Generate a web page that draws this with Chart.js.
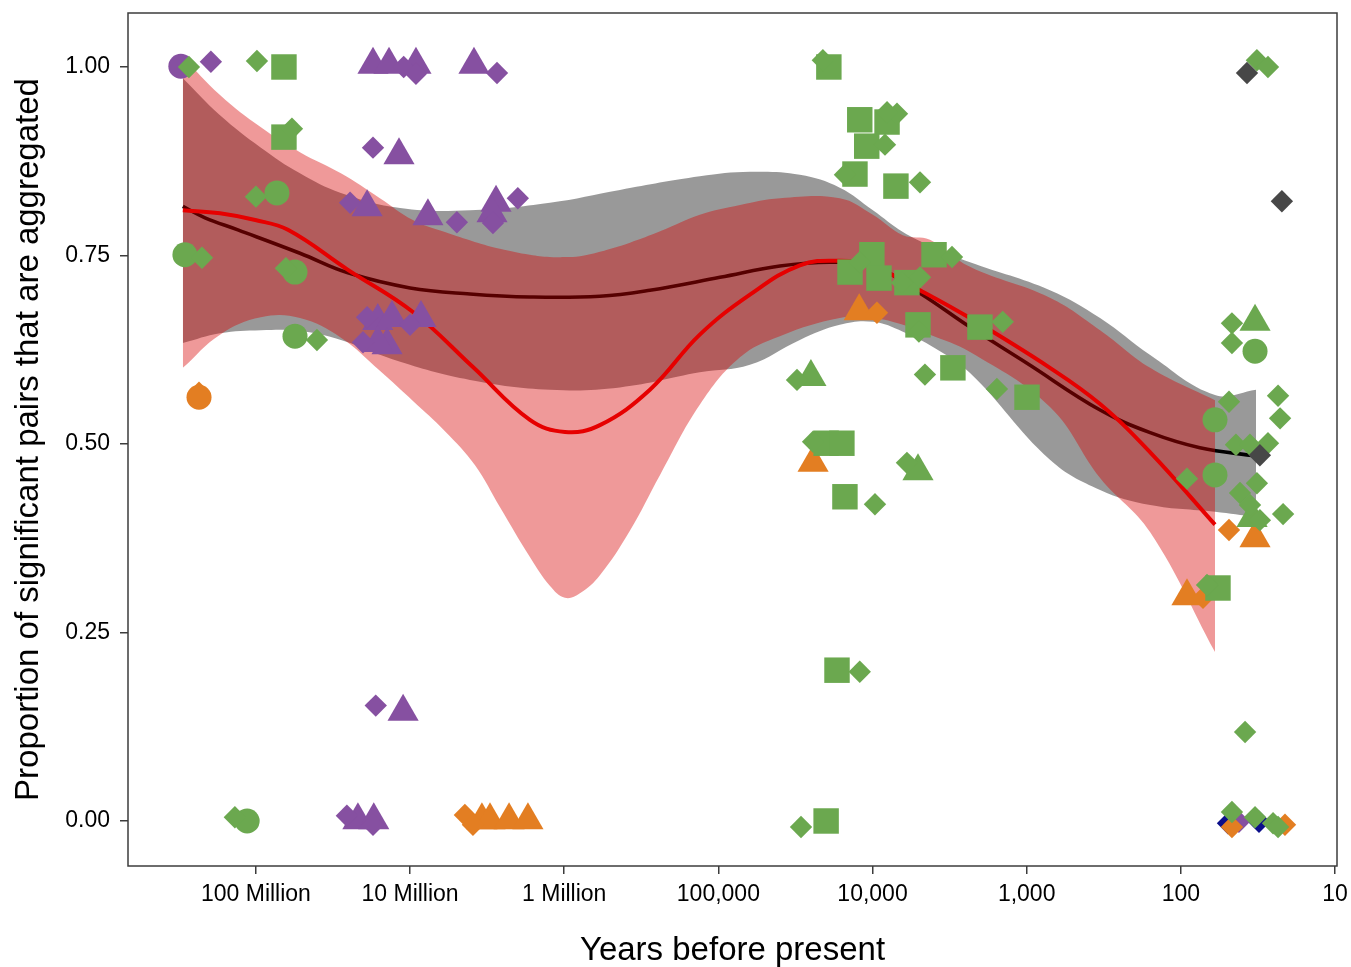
<!DOCTYPE html>
<html>
<head>
<meta charset="utf-8">
<script src="https://cdn.jsdelivr.net/npm/chart.js@4"></script>
<style>
html,body{margin:0;padding:0;background:#fff;}
#c{display:block;}
</style>
</head>
<body>
<canvas id="c" width="1351" height="967"></canvas>
<script>
// ---------- tick labels ----------
const xTickValues = [1e8, 1e7, 1e6, 1e5, 1e4, 1e3, 100, 10];
const xTickLabels = ['100 Million', '10 Million', '1 Million', '100,000', '10,000', '1,000', '100', '10'];
const yTickValues = [0, 0.25, 0.5, 0.75, 1];
const yTickLabels = ['0.00', '0.25', '0.50', '0.75', '1.00'];

// ---------- points: [years before present, proportion] ----------
const purpleCircles = [[3.07e8, 1.001]];
const purpleDiamonds = [[1.96e8,1.007],[1.10e7,1.0],[9.16e6,0.991],[2.73e6,0.992],[1.74e7,0.893],[2.45e7,0.820],[4.97e6,0.794],[2.0e6,0.826],[2.90e6,0.793],[1.0e7,0.658],[1.90e7,0.668],[2.02e7,0.635],[1.67e7,0.153],[2.57e7,0.007],[1.74e7,-0.005],[42.0,-0.001]];
const purpleTriangles = [[1.74e7,1.003],[1.37e7,1.003],[9.16e6,1.003],[3.85e6,1.003],[1.18e7,0.883],[1.90e7,0.814],[7.66e6,0.802],[2.77e6,0.820],[2.94e6,0.806],[1.62e7,0.663],[1.31e7,0.667],[8.50e6,0.667],[1.41e7,0.631],[1.62e7,0.634],[1.11e7,0.145],[2.18e7,0.001],[1.72e7,0.001]];
const greenCircles = [[2.89e8,0.751],[7.31e7,0.833],[5.58e7,0.728],[5.58e7,0.643],[1.14e8,0.0],[33.0,0.623],[60.0,0.532],[60.0,0.459]];
const greenDiamonds = [[2.72e8,1.0],[9.85e7,1.008],[5.84e7,0.918],[1.0e8,0.828],[2.24e8,0.747],[6.39e7,0.733],[4.02e7,0.638],[1.37e8,0.005],[2.10e4,1.009],[6.94e3,0.938],[8.05e3,0.940],[8.30e3,0.897],[1.51e4,0.857],[4.92e3,0.847],[1.21e4,0.741],[6.44e3,0.714],[4.92e3,0.721],[3.05e3,0.748],[5.0e3,0.649],[1.43e3,0.662],[4.57e3,0.592],[1.56e3,0.573],[3.09e4,0.585],[2.43e4,0.503],[5.98e3,0.475],[9.64e3,0.420],[1.21e4,0.198],[2.91e4,-0.008],[32.1,1.009],[27.2,1.0],[46.6,0.660],[46.6,0.634],[48.7,0.556],[23.4,0.564],[22.7,0.534],[43.9,0.499],[35.6,0.499],[27.2,0.501],[91.2,0.454],[41.3,0.435],[32.1,0.448],[35.6,0.419],[30.7,0.399],[21.7,0.407],[67.6,0.313],[38.3,0.118],[46.6,0.012],[33.0,0.005],[25.2,-0.003],[23.4,-0.008]];
const greenSquares = [[6.58e7,1.0],[6.58e7,0.907],[1.92e4,1.0],[1.21e4,0.930],[8.05e3,0.927],[1.09e4,0.895],[1.30e4,0.858],[7.05e3,0.842],[1.40e4,0.728],[1.01e4,0.751],[9.08e3,0.720],[5.98e3,0.714],[3.99e3,0.751],[5.07e3,0.658],[2.01e3,0.655],[3.01e3,0.601],[995,0.562],[2.0e4,0.501],[1.58e4,0.501],[1.51e4,0.430],[1.70e4,0.200],[2.0e4,0.0],[57.4,0.309]];
const greenTriangles = [[2.51e4,0.589],[5.07e3,0.464],[33.0,0.662],[34.5,0.402]];
const orangeCircles = [[2.34e8,0.562]];
const orangeDiamonds = [[2.34e8,0.568],[9.36e3,0.674],[4.41e6,0.008],[3.91e6,-0.005],[71.8,0.296],[48.7,0.386],[46.6,-0.008],[21.1,-0.005]];
const orangeTriangles = [[1.22e4,0.676],[2.43e4,0.475],[3.42e6,0.001],[3.03e6,0.001],[2.28e6,0.001],[1.72e6,0.001],[91.2,0.298],[33.0,0.375]];
const grayDiamonds = [[37.2,0.992],[22.1,0.822],[30.7,0.485]];
const navyDiamonds = [[49.4,-0.003],[31.1,-0.001]];

// ---------- smooth fits and confidence bands ----------
const grayBandYears = [2.98e8,1.71e8,9.28e7,5.18e7,2.81e7,1.16e7,4.09e6,1.24e6,4.35e5,1.32e5,6.24e4,2.96e4,1.63e4,9.94e3,6.35e3,4.24e3,2.33e3,706,334,158,60,32.5];
const grayBandUpper = [0.985,0.936,0.893,0.859,0.833,0.813,0.810,0.820,0.837,0.855,0.861,0.857,0.840,0.810,0.781,0.763,0.741,0.704,0.667,0.618,0.565,0.572];
const grayBandLower = [0.634,0.647,0.651,0.650,0.638,0.609,0.585,0.572,0.575,0.595,0.605,0.638,0.658,0.662,0.649,0.631,0.594,0.479,0.439,0.419,0.410,0.403];

const redBandYears = [2.98e8,1.71e8,9.28e7,5.18e7,2.81e7,1.57e7,9.58e6,5.94e6,3.80e6,2.61e6,1.67e6,1.24e6,9.89e5,7.91e5,5.87e5,3.75e5,2.39e5,1.32e5,7.24e4,3.99e4,1.63e4,9.94e3,6.35e3,4.24e3,2.33e3,706,334,158,60];
const redBandUpper = [1.013,0.963,0.920,0.887,0.859,0.826,0.797,0.781,0.768,0.759,0.751,0.748,0.748,0.749,0.755,0.767,0.782,0.804,0.817,0.826,0.826,0.804,0.777,0.771,0.735,0.694,0.651,0.601,0.558];
const redBandLower = [0.601,0.645,0.668,0.667,0.641,0.597,0.557,0.517,0.472,0.416,0.350,0.312,0.296,0.302,0.326,0.385,0.459,0.552,0.615,0.643,0.667,0.667,0.658,0.645,0.622,0.549,0.455,0.383,0.224];

const blackLineYears = [2.98e8,2.14e8,1.31e8,5.18e7,2.53e7,1.0e7,4.09e6,1.67e6,5.87e5,2.78e5,9.77e4,3.99e4,1.89e4,9.94e3,4.92e3,2.33e3,995,334,158,75.2,32.5];
const blackLineValues = [0.815,0.800,0.784,0.753,0.727,0.707,0.699,0.695,0.696,0.704,0.721,0.736,0.741,0.736,0.700,0.655,0.607,0.545,0.515,0.495,0.484];

const redLineYears = [2.98e8,1.71e8,1.01e8,6.20e7,2.53e7,9.58e6,3.91e6,1.67e6,9.89e5,5.87e5,2.78e5,1.32e5,6.24e4,2.96e4,1.63e4,9.94e3,4.92e3,2.33e3,706,334,158,60];
const redLineValues = [0.810,0.806,0.797,0.784,0.731,0.675,0.602,0.532,0.516,0.525,0.572,0.645,0.698,0.737,0.743,0.736,0.704,0.667,0.601,0.553,0.489,0.393];

// ---------- styles ----------
const COLORS = {purple:'#8650A1', green:'#6BA84F', orange:'#E37E22', gray:'#474747', navy:'#0B0E8A'};
const FONT = "'Liberation Sans', Arial, Helvetica, sans-serif";

function toXY(pairs){ return pairs.map(p => ({x:p[0], y:p[1]})); }
function zipXY(xs, ys){ return xs.map((x,i) => ({x:x, y:ys[i]})); }

function pts(pairs, style, radius, color, order){
  return {
    type:'line', data: toXY(pairs), showLine:false,
    pointStyle: style, pointRadius: radius, pointHoverRadius: radius,
    pointBackgroundColor: color, pointBorderColor: color, pointBorderWidth: 0,
    order: order
  };
}

const datasets = [];
datasets.push(pts(grayDiamonds, 'rectRot', 11.2, COLORS.gray, 0));
datasets.push(pts(greenDiamonds, 'rectRot', 11.2, COLORS.green, 1));
datasets.push(pts(greenSquares, 'rect', 18, COLORS.green, 1));
datasets.push(pts(greenCircles, 'circle', 12.5, COLORS.green, 1));
datasets.push(pts(greenTriangles, 'triangle', 18, COLORS.green, 1));
datasets.push(pts(orangeCircles, 'circle', 12.5, COLORS.orange, 2));
datasets.push(pts(orangeDiamonds, 'rectRot', 11.2, COLORS.orange, 2));
datasets.push(pts(orangeTriangles, 'triangle', 18, COLORS.orange, 2));
datasets.push(pts(purpleCircles, 'circle', 12.5, COLORS.purple, 3));
datasets.push(pts(purpleDiamonds, 'rectRot', 11.2, COLORS.purple, 3));
datasets.push(pts(purpleTriangles, 'triangle', 18, COLORS.purple, 3));
datasets.push(pts(navyDiamonds, 'rectRot', 11.2, COLORS.navy, 4));

datasets.push({type:'line', data: zipXY(redLineYears, redLineValues), borderColor:'#E60000', borderWidth:4, pointRadius:0, tension:0.4, fill:false, order:10});
let idx = datasets.length;
datasets.push({type:'line', data: zipXY(redBandYears, redBandUpper), borderWidth:0, pointRadius:0, tension:0.4, fill: idx+1, backgroundColor:'rgba(215,0,0,0.4)', order:20});
datasets.push({type:'line', data: zipXY(redBandYears, redBandLower), borderWidth:0, pointRadius:0, tension:0.4, fill:false, order:20});
datasets.push({type:'line', data: zipXY(blackLineYears, blackLineValues), borderColor:'#000000', borderWidth:3.6, pointRadius:0, tension:0.4, fill:false, order:30});
idx = datasets.length;
datasets.push({type:'line', data: zipXY(grayBandYears, grayBandUpper), borderWidth:0, pointRadius:0, tension:0.4, fill: idx+1, backgroundColor:'rgba(0,0,0,0.4)', order:40});
datasets.push({type:'line', data: zipXY(grayBandYears, grayBandLower), borderWidth:0, pointRadius:0, tension:0.4, fill:false, order:40});

const framePlugin = {
  id:'frame',
  afterDatasetsDraw(chart){
    const a = chart.chartArea, ctx = chart.ctx;
    ctx.save();
    ctx.strokeStyle = '#3c3c3c';
    ctx.lineWidth = 1.5;
    ctx.strokeRect(a.left, a.top, a.right - a.left, a.bottom - a.top);
    ctx.restore();
  }
};

new Chart(document.getElementById('c'), {
  type:'line',
  data:{ datasets: datasets },
  options:{
    responsive:false,
    devicePixelRatio:1,
    animation:false,
    events:[],
    layout:{ autoPadding:false, padding:{ top:13, right:14, left:0, bottom:0 } },
    plugins:{ legend:{display:false}, tooltip:{enabled:false} },
    scales:{
      x:{
        type:'logarithmic', reverse:true, min:9.7, max:6.76e8, bounds:'data',
        afterBuildTicks: s => { s.ticks = xTickValues.map(v => ({value:v})); },
        afterFit: s => { s.height = 101; s.paddingLeft = 0; s.paddingRight = 0; },
        ticks:{ autoSkip:false, maxRotation:0, minRotation:0, padding:7, color:'#000',
          font:{ family:FONT, size:23 },
          callback: v => { const i = xTickValues.indexOf(v); return i >= 0 ? xTickLabels[i] : ''; } },
        grid:{ display:true, drawOnChartArea:false, drawTicks:true, tickLength:8, color:'#3c3c3c', lineWidth:1.5 },
        border:{ display:false },
        title:{ display:true, text:'Years before present', color:'#000', font:{ family:FONT, size:33 }, padding:{ top:0, bottom:-4 } }
      },
      y:{
        type:'linear', min:-0.0597, max:1.0716, bounds:'data',
        afterBuildTicks: s => { s.ticks = yTickValues.map(v => ({value:v})); },
        afterFit: s => { s.width = 128; s.paddingTop = 0; s.paddingBottom = 0; },
        ticks:{ padding:10, color:'#000', font:{ family:FONT, size:23 },
          callback: v => { const i = yTickValues.indexOf(v); return i >= 0 ? yTickLabels[i] : ''; } },
        grid:{ display:true, drawOnChartArea:false, drawTicks:true, tickLength:8, color:'#3c3c3c', lineWidth:1.5 },
        border:{ display:false },
        title:{ display:true, text:'Proportion of significant pairs that are aggregated', color:'#000', font:{ family:FONT, size:33 }, padding:{ top:9, bottom:0 } }
      }
    }
  },
  plugins:[framePlugin]
});
</script>
</body>
</html>
